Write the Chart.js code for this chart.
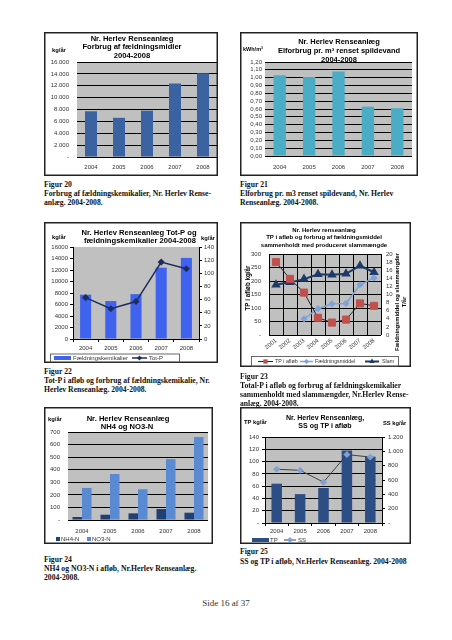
<!DOCTYPE html>
<html lang="da">
<head>
<meta charset="utf-8">
<title>Nr. Herlev Renseanlæg - side 16</title>
<script src="https://cdn.jsdelivr.net/npm/chart.js@4.4.1/dist/chart.umd.min.js"></script>
<style>
  html, body { margin: 0; padding: 0; background: #fff; }
  #page { position: relative; width: 452px; height: 640px; overflow: hidden; }
  .fig { position: absolute; }
  .fig canvas { display: block; }
  .cap { position: absolute; font: bold 7.7px/9.2px "Liberation Serif", "Times New Roman", serif; color: #111; white-space: nowrap; }
  #side { position: absolute; left: 0; width: 452px; top: 598px; text-align: center; font: 9px/10px "Liberation Serif", "Times New Roman", serif; color: #333; }
</style>
</head>
<body>
<div id="page">
  <div class="fig" style="left:44px;top:32px"><canvas id="c20" width="174" height="144"></canvas></div>
  <div class="fig" style="left:240px;top:32px"><canvas id="c21" width="178" height="144"></canvas></div>
  <div class="fig" style="left:44px;top:222px"><canvas id="c22" width="174" height="141"></canvas></div>
  <div class="fig" style="left:240px;top:222px"><canvas id="c23" width="171" height="145"></canvas></div>
  <div class="fig" style="left:44px;top:407px"><canvas id="c24" width="169" height="137"></canvas></div>
  <div class="fig" style="left:240px;top:407px"><canvas id="c25" width="171" height="137"></canvas></div>

  <div class="cap" style="left:44px;top:179.5px">Figur 20<br>Forbrug af fældningskemikalier, Nr. Herlev Rense-<br>anlæg. 2004-2008.</div>
  <div class="cap" style="left:240px;top:179.5px">Figur 21<br>Elforbrug pr. m3 renset spildevand, Nr. Herlev<br>Renseanlæg. 2004-2008.</div>
  <div class="cap" style="left:44px;top:366.5px">Figur 22<br>Tot-P i afløb og forbrug af fældningskemikalie, Nr.<br>Herlev Renseanlæg. 2004-2008.</div>
  <div class="cap" style="left:240px;top:371.5px">Figur 23<br>Total-P i afløb og forbrug af fældningskemikalier<br>sammenholdt med slammængder, Nr.Herlev Rense-<br>anlæg. 2004-2008.</div>
  <div class="cap" style="left:44px;top:554.5px">Figur 24<br>NH4 og NO3-N i afløb, Nr.Herlev Renseanlæg.<br>2004-2008.</div>
  <div class="cap" style="left:240px;top:546.5px;line-height:10.5px">Figur 25<br>SS og TP i afløb, Nr.Herlev Renseanlæg. 2004-2008</div>

  <div id="side">Side 16 af 37</div>
</div>

<script>
// Data
var years = ['2004', '2005', '2006', '2007', '2008'];
var years0108 = ['2001', '2002', '2003', '2004', '2005', '2006', '2007', '2008'];

// Fig 20 + 22: fældningsmidler, kg/år
var faeldning = [7700, 6600, 7800, 12400, 14100];
// Fig 21: elforbrug, kWh/m3
var elforbrug = [1.03, 1.01, 1.08, 0.63, 0.61];
// Fig 22: Tot-P, kg/år
var totP = [63, 46, 57, 117, 107];
// Fig 23: 2001-2008
var tpAfloeb = [270, 208, 157, 64, 46, 57, 117, 108];   // kg/år
var faeldningTon = [null, null, 4.0, 6.5, 7.7, 7.8, 12.4, 14.1]; // T/år
var slamTon = [12.4, 13.0, 13.8, 15.0, 14.9, 15.1, 17.1, 15.5];  // T/år
// Fig 24: kg/år
var nh4 = [24, 42, 53, 87, 58];
var no3 = [255, 366, 245, 484, 660];
// Fig 25: kg/år
var tpKg = [64, 47, 57, 118, 108];
var ssKg = [750, 735, 570, 955, 920];

Chart.defaults.font.family = '"Liberation Sans", Arial, sans-serif';
Chart.defaults.font.size = 6;
Chart.defaults.color = '#333';
Chart.defaults.animation = false;

// Excel style: thousands with dot, zero shown as a dash
function dk(v) {
  if (v === 0) return '-';
  return String(v).replace(/\B(?=(\d{3})+(?!\d))/g, '.');
}
function dash(v) {
  return v === 0 ? '-' : String(v);
}
function plain(v) {
  return String(v);
}

function drawMarker(ctx, style, x, y, r) {
  ctx.beginPath();
  if (style === 'rect') {
    var s = r * Math.SQRT1_2;
    ctx.rect(x - s, y - s, 2 * s, 2 * s);
  } else if (style === 'triangle') {
    ctx.moveTo(x, y - r);
    ctx.lineTo(x + r * 0.866, y + r / 2);
    ctx.lineTo(x - r * 0.866, y + r / 2);
    ctx.closePath();
  } else {
    ctx.moveTo(x, y - r);
    ctx.lineTo(x + r, y);
    ctx.lineTo(x, y + r);
    ctx.lineTo(x - r, y);
    ctx.closePath();
  }
  ctx.fill();
}

// Gray plot background, chart frame, titles and a small legend
var pageFrame = {
  id: 'pageFrame',
  beforeDraw: function (chart, args, opts) {
    var ctx = chart.ctx, a = chart.chartArea;
    ctx.save();
    ctx.fillStyle = '#ffffff';
    ctx.fillRect(0, 0, chart.width, chart.height);
    ctx.fillStyle = '#c0c0c0';
    ctx.fillRect(a.left, a.top, a.right - a.left, a.bottom - a.top);
    ctx.restore();
  },
  afterDraw: function (chart, args, opts) {
    var ctx = chart.ctx;
    ctx.save();
    ctx.strokeStyle = '#222';
    ctx.lineWidth = 1.5;
    ctx.strokeRect(0.75, 0.75, chart.width - 1.5, chart.height - 1.5);

    (opts.texts || []).forEach(function (t) {
      ctx.save();
      ctx.fillStyle = '#000';
      ctx.font = (t.b ? 'bold ' : '') + t.s + 'px "Liberation Sans", Arial, sans-serif';
      ctx.textAlign = t.a || 'center';
      ctx.textBaseline = 'middle';
      ctx.translate(t.x, t.y);
      if (t.rot) ctx.rotate(t.rot * Math.PI / 180);
      ctx.fillText(t.t, 0, 0);
      ctx.restore();
    });

    if (opts.legendBox) {
      var b = opts.legendBox;
      ctx.strokeStyle = '#444';
      ctx.lineWidth = 0.8;
      ctx.strokeRect(b[0] + 0.5, b[1] + 0.5, b[2], b[3]);
    }
    (opts.legend || []).forEach(function (it) {
      var ds = chart.data.datasets[it.ds];
      if (it.kind === 'bar') {
        ctx.fillStyle = ds.backgroundColor;
        ctx.fillRect(it.x, it.y - 2, it.w, 4);
      } else if (it.kind === 'square') {
        ctx.fillStyle = ds.backgroundColor;
        ctx.fillRect(it.x, it.y - 2, 4, 4);
      } else {
        ctx.strokeStyle = ds.borderColor;
        ctx.lineWidth = ds.borderWidth;
        ctx.beginPath();
        ctx.moveTo(it.x, it.y);
        ctx.lineTo(it.x + it.w, it.y);
        ctx.stroke();
        ctx.fillStyle = ds.pointBackgroundColor;
        drawMarker(ctx, ds.pointStyle, it.x + it.w / 2, it.y, Math.min(ds.pointRadius, 3));
      }
      ctx.fillStyle = '#333';
      ctx.font = (it.fs || 6) + 'px "Liberation Sans", Arial, sans-serif';
      ctx.textAlign = 'left';
      ctx.textBaseline = 'middle';
      ctx.fillText(ds.label, it.tx, it.y);
    });
    ctx.restore();
  }
};

// Standard chart creation, destroys an old chart on the same canvas first.
function createChart(canvasId, chartType, data, options) {
  var existingChart = Chart.getChart(canvasId);
  if (existingChart) {
    existingChart.destroy();
  }
  options.responsive = false;
  options.plugins = options.plugins || {};
  options.plugins.legend = { display: false };
  options.plugins.tooltip = { enabled: false };
  var ctx = document.getElementById(canvasId).getContext('2d');
  return new Chart(ctx, {
    type: chartType,
    data: data,
    options: options,
    plugins: [pageFrame]
  });
}

// Figur 20
createChart('c20', 'bar', {
  labels: years,
  datasets: [{ label: 'Fældningsmidler', data: faeldning, backgroundColor: '#3b63a1',
    barPercentage: 0.43, categoryPercentage: 1 }]
}, {
  layout: { padding: { left: 0, right: 1, top: 30, bottom: 0 } },
  plugins: {
    pageFrame: {
      texts: [
        { t: 'Nr. Herlev Renseanlæg', x: 88, y: 6.5, s: 7.6, b: 1 },
        { t: 'Forbrug af fældningsmidler', x: 88, y: 15, s: 7.6, b: 1 },
        { t: '2004-2008', x: 88, y: 23.5, s: 7.6, b: 1 },
        { t: 'kg/år', x: 8, y: 18, s: 5.8, b: 1, a: 'left' }
      ]
    }
  },
  scales: {
    x: { grid: { display: false, drawTicks: false }, border: { display: false }, ticks: { padding: 7 },
      afterFit: function (s) { s.height = 19; } },
    y: { min: 0, max: 16000, grid: { color: '#000', drawTicks: false }, border: { display: false },
      ticks: { stepSize: 2000, padding: 8, autoSkip: false, callback: dk },
      afterFit: function (s) { s.width = 33; } }
  }
});

// Figur 21
createChart('c21', 'bar', {
  labels: years,
  datasets: [{ label: 'Elforbrug', data: elforbrug, backgroundColor: '#4bacc6',
    barPercentage: 0.42, categoryPercentage: 1 }]
}, {
  layout: { padding: { left: 0, right: 6, top: 30, bottom: 0 } },
  plugins: {
    pageFrame: {
      texts: [
        { t: 'Nr. Herlev Renseanlæg', x: 99, y: 10, s: 7.5, b: 1 },
        { t: 'Elforbrug pr. m³ renset spildevand', x: 99, y: 19, s: 7.5, b: 1 },
        { t: '2004-2008', x: 99, y: 27.5, s: 7.5, b: 1 },
        { t: 'kWh/m³', x: 3, y: 17, s: 5.5, b: 1, a: 'left' }
      ]
    }
  },
  scales: {
    x: { grid: { display: false, drawTicks: false }, border: { display: false }, ticks: { padding: 8 },
      afterFit: function (s) { s.height = 20; } },
    y: { min: 0, max: 1.2, grid: { color: '#000', drawTicks: false }, border: { display: false },
      ticks: { stepSize: 0.1, padding: 3, autoSkip: false,
        callback: function (v) { return v.toFixed(2).replace('.', ','); } },
      afterFit: function (s) { s.width = 25; } }
  }
});

// Figur 22
createChart('c22', 'bar', {
  labels: years,
  datasets: [
    { type: 'bar', label: 'Fældningskemikalier', data: faeldning, backgroundColor: '#3f63ee',
      barPercentage: 0.44, categoryPercentage: 1, yAxisID: 'y', order: 2 },
    { type: 'line', label: 'Tot-P', data: totP, borderColor: '#1f2d5c', borderWidth: 1.5,
      pointStyle: 'rectRot', pointRadius: 2.5, pointBackgroundColor: '#1f2d5c',
      pointBorderColor: '#1f2d5c', yAxisID: 'y2', order: 1 }
  ]
}, {
  layout: { padding: { left: 0, right: 0, top: 25, bottom: 0 } },
  plugins: {
    pageFrame: {
      texts: [
        { t: 'Nr. Herlev Renseanlæg Tot-P og', x: 95, y: 10.5, s: 7.6, b: 1 },
        { t: 'fældningskemikalier 2004-2008', x: 96, y: 19, s: 7.6, b: 1 },
        { t: 'kg/år', x: 8, y: 15, s: 5.8, b: 1, a: 'left' },
        { t: 'kg/år', x: 157, y: 16, s: 5.8, b: 1, a: 'left' }
      ],
      legendBox: [6, 131.5, 129, 9],
      legend: [
        { ds: 0, kind: 'bar', x: 10, w: 17, y: 136, tx: 29 },
        { ds: 1, kind: 'line', x: 88, w: 15, y: 136, tx: 105 }
      ]
    }
  },
  scales: {
    x: { grid: { drawOnChartArea: false, color: '#000', tickLength: 3 }, border: { color: '#000' },
      ticks: { padding: 3 }, afterFit: function (s) { s.height = 24; } },
    y: { min: 0, max: 16000, grid: { drawOnChartArea: false, color: '#000', tickLength: 3 },
      border: { color: '#000' }, ticks: { stepSize: 2000, padding: 2, autoSkip: false, callback: plain },
      afterFit: function (s) { s.width = 29; } },
    y2: { position: 'right', min: 0, max: 140, grid: { drawOnChartArea: false, color: '#000', tickLength: 3 },
      border: { color: '#000' }, ticks: { stepSize: 20, padding: 2, autoSkip: false, callback: plain },
      afterFit: function (s) { s.width = 19; } }
  }
});

// Figur 23
createChart('c23', 'line', {
  labels: years0108,
  datasets: [
    { label: 'TP i afløb', data: tpAfloeb, borderColor: '#262626', borderWidth: 1,
      pointStyle: 'rect', pointRadius: 5, pointBackgroundColor: '#c0504d',
      pointBorderColor: '#c0504d', yAxisID: 'y' },
    { label: 'Fældningsmiddel', data: faeldningTon, borderColor: '#7ba3da', borderWidth: 1.5,
      pointStyle: 'rectRot', pointRadius: 2.5, pointBackgroundColor: '#7ba3da',
      pointBorderColor: '#7ba3da', yAxisID: 'y2' },
    { label: 'Slam', data: slamTon, borderColor: '#1f3a68', borderWidth: 2,
      pointStyle: 'triangle', pointRadius: 3.5, pointBackgroundColor: '#1f3a68',
      pointBorderColor: '#1f3a68', yAxisID: 'y2' }
  ]
}, {
  layout: { padding: { left: 0, right: 0, top: 32, bottom: 0 } },
  plugins: {
    pageFrame: {
      texts: [
        { t: 'Nr. Herlev renseanlæg', x: 84, y: 8.7, s: 6, b: 1 },
        { t: 'TP i afløb og forbrug af fældningsmiddel', x: 84, y: 15.7, s: 6, b: 1 },
        { t: 'sammenholdt med produceret slammængde', x: 84, y: 23, s: 6, b: 1 },
        { t: 'TP i afløb kg/år', x: 8, y: 66, s: 6.3, b: 1, rot: -90 },
        { t: 'Fældningsmiddel og slammængder', x: 157, y: 80, s: 5.8, b: 1, rot: -90 },
        { t: 'T/år', x: 164, y: 80, s: 5.8, b: 1, rot: -90 }
      ],
      legendBox: [11, 134, 147, 10],
      legend: [
        { ds: 0, kind: 'line', x: 18, w: 15, y: 139.5, tx: 35, fs: 5.3 },
        { ds: 1, kind: 'line', x: 60, w: 13, y: 139.5, tx: 75, fs: 5.3 },
        { ds: 2, kind: 'line', x: 125, w: 14, y: 139.5, tx: 142, fs: 5.3 }
      ]
    }
  },
  scales: {
    x: { offset: true, grid: { offset: true, color: '#000', drawTicks: false }, border: { display: false },
      ticks: { minRotation: 40, maxRotation: 40, padding: 2, autoSkip: false },
      afterFit: function (s) { s.height = 32; } },
    y: { min: 0, max: 300, grid: { color: '#000', drawTicks: false }, border: { display: false },
      ticks: { stepSize: 50, padding: 8, autoSkip: false, callback: dash },
      afterFit: function (s) { s.width = 29; } },
    y2: { position: 'right', min: 0, max: 20, grid: { display: false, drawTicks: false }, border: { display: false },
      ticks: { stepSize: 2, padding: 5, autoSkip: false, callback: plain },
      afterFit: function (s) { s.width = 30; } }
  }
});

// Figur 24
createChart('c24', 'bar', {
  labels: years,
  datasets: [
    { label: 'NH4-N', data: nh4, backgroundColor: '#203f75', barPercentage: 1, categoryPercentage: 0.68 },
    { label: 'NO3-N', data: no3, backgroundColor: '#5a8ad2', barPercentage: 1, categoryPercentage: 0.68 }
  ]
}, {
  layout: { padding: { left: 0, right: 5, top: 25, bottom: 0 } },
  plugins: {
    pageFrame: {
      texts: [
        { t: 'Nr. Herlev Renseanlæg', x: 84, y: 12, s: 7.6, b: 1 },
        { t: 'NH4 og NO3-N', x: 83, y: 20, s: 7.6, b: 1 },
        { t: 'kg/år', x: 4, y: 12, s: 5.8, b: 1, a: 'left' }
      ],
      legend: [
        { ds: 0, kind: 'square', x: 12, y: 132, tx: 17 },
        { ds: 1, kind: 'square', x: 43, y: 132, tx: 48 }
      ]
    }
  },
  scales: {
    x: { grid: { display: false, drawTicks: false }, border: { display: false }, ticks: { padding: 8 },
      afterFit: function (s) { s.height = 24; } },
    y: { min: 0, max: 700, grid: { color: '#000', drawTicks: false }, border: { display: false },
      ticks: { stepSize: 100, padding: 8, autoSkip: false, callback: dash },
      afterFit: function (s) { s.width = 24; } }
  }
});

// Figur 25
createChart('c25', 'bar', {
  labels: years,
  datasets: [
    { type: 'bar', label: 'TP', data: tpKg, backgroundColor: '#2d4d85',
      barPercentage: 0.45, categoryPercentage: 1, yAxisID: 'y', order: 2 },
    { type: 'line', label: 'SS', data: ssKg, borderColor: '#404040', borderWidth: 1,
      pointStyle: 'rectRot', pointRadius: 3, pointBackgroundColor: '#7fa2d3',
      pointBorderColor: '#7fa2d3', yAxisID: 'y2', order: 1 }
  ]
}, {
  layout: { padding: { left: 0, right: 0, top: 30, bottom: 0 } },
  plugins: {
    pageFrame: {
      texts: [
        { t: 'Nr. Herlev Renseanlæg,', x: 85, y: 11, s: 7, b: 1 },
        { t: 'SS og TP i afløb', x: 85, y: 19, s: 7, b: 1 },
        { t: 'TP kg/år', x: 4, y: 15, s: 5.8, b: 1, a: 'left' },
        { t: 'SS kg/år', x: 143, y: 16, s: 5.8, b: 1, a: 'left' }
      ],
      legend: [
        { ds: 0, kind: 'bar', x: 12, w: 17, y: 133, tx: 30 },
        { ds: 1, kind: 'line', x: 44, w: 12, y: 133, tx: 58 }
      ]
    }
  },
  scales: {
    x: { grid: { drawOnChartArea: false, color: '#000', tickLength: 3 }, border: { color: '#000' },
      ticks: { padding: 2 }, afterFit: function (s) { s.height = 21; } },
    y: { min: 0, max: 140, grid: { color: '#000', tickLength: 3 }, border: { color: '#000' },
      ticks: { stepSize: 20, padding: 3, autoSkip: false, callback: dash },
      afterFit: function (s) { s.width = 25; } },
    y2: { position: 'right', min: 0, max: 1200, grid: { drawOnChartArea: false, color: '#000', tickLength: 3 },
      border: { color: '#000' }, ticks: { stepSize: 200, padding: 3, autoSkip: false, callback: dk },
      afterFit: function (s) { s.width = 29; } }
  }
});
</script>
</body>
</html>
